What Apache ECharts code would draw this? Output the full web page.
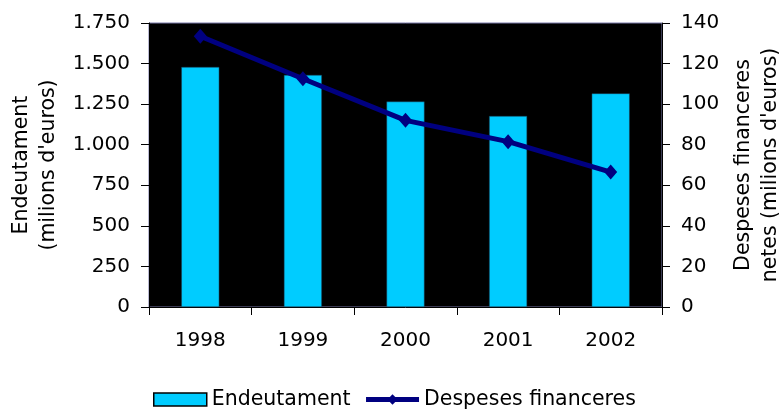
<!DOCTYPE html>
<html><head><meta charset="utf-8">
<script src="https://cdn.jsdelivr.net/npm/echarts@6/dist/echarts.min.js"></script>
<style>html,body{margin:0;padding:0;background:#fff}#c{width:781px;height:410px}</style>
</head><body><div id="c"></div>
<script>
const years = ['1998','1999','2000','2001','2002'];
const endeutament = [1479, 1430, 1266, 1177, 1316];
const despeses = [133.5, 112.5, 92, 81.5, 66.5];
const FONT = 'DejaVu Sans';
const FS = 20;
const FT = 20.5;
const chart = echarts.init(document.getElementById('c'));
chart.setOption({
  animation: false,
  textStyle: {fontFamily: FONT, color: '#000'},
  grid: {left: 149, right: 119, top: 23, bottom: 103, containLabel: false, outerBoundsMode: 'none',
         show: true, backgroundColor: '#000', borderColor: '#7878a8', borderWidth: 1},
  legend: {
    left: 148, top: 384, itemGap: 13, itemWidth: 53, itemHeight: 13,
    textStyle: {fontFamily: FONT, fontSize: FT, color: '#000'},
    data: [
      {name: 'Endeutament', icon: 'rect', itemStyle: {color: '#00CCFF', borderColor: '#000', borderWidth: 1.5}},
      {name: 'Despeses financeres', lineStyle: {width: 5, color: '#000080'}}
    ]
  },
  xAxis: {
    type: 'category', data: years,
    axisLine: {lineStyle: {color: '#000', width: 1}},
    axisTick: {show: true, length: 8, lineStyle: {color: '#000'}},
    axisLabel: {fontFamily: FONT, fontSize: FS, color: '#000', margin: 24}
  },
  yAxis: [
    {
      type: 'value', min: 0, max: 1750, interval: 250,
      name: "Endeutament\n(milions d'euros)", nameLocation: 'middle', nameGap: 81, nameRotate: 90,
      nameTextStyle: {fontFamily: FONT, fontSize: FT, color: '#000', lineHeight: 27},
      axisLine: {show: true, lineStyle: {color: '#000'}},
      axisTick: {show: true, length: 8, lineStyle: {color: '#000'}},
      splitLine: {show: false},
      axisLabel: {fontFamily: FONT, fontSize: FS, color: '#000', margin: 19,
        formatter: v => String(v).replace(/\B(?=(\d{3})+(?!\d))/g, '.')}
    },
    {
      type: 'value', min: 0, max: 140, interval: 20, position: 'right',
      name: "Despeses financeres\nnetes (milions d'euros)", nameLocation: 'middle', nameGap: 64, nameRotate: 90,
      nameTextStyle: {fontFamily: FONT, fontSize: FT, color: '#000', lineHeight: 27},
      axisLine: {show: true, lineStyle: {color: '#000'}},
      axisTick: {show: true, length: 8, lineStyle: {color: '#000'}},
      splitLine: {show: false},
      axisLabel: {fontFamily: FONT, fontSize: FS, color: '#000', margin: 19}
    }
  ],
  series: [
    {name: 'Endeutament', type: 'bar', data: endeutament, barWidth: 38,
     itemStyle: {color: '#00CCFF', borderColor: '#1a3a50', borderWidth: 0.5}},
    {name: 'Despeses financeres', type: 'line', yAxisIndex: 1, data: despeses,
     symbol: 'diamond', symbolSize: [13, 15], lineStyle: {color: '#000080', width: 5},
     itemStyle: {color: '#000080'}}
  ]
});
</script></body></html>
